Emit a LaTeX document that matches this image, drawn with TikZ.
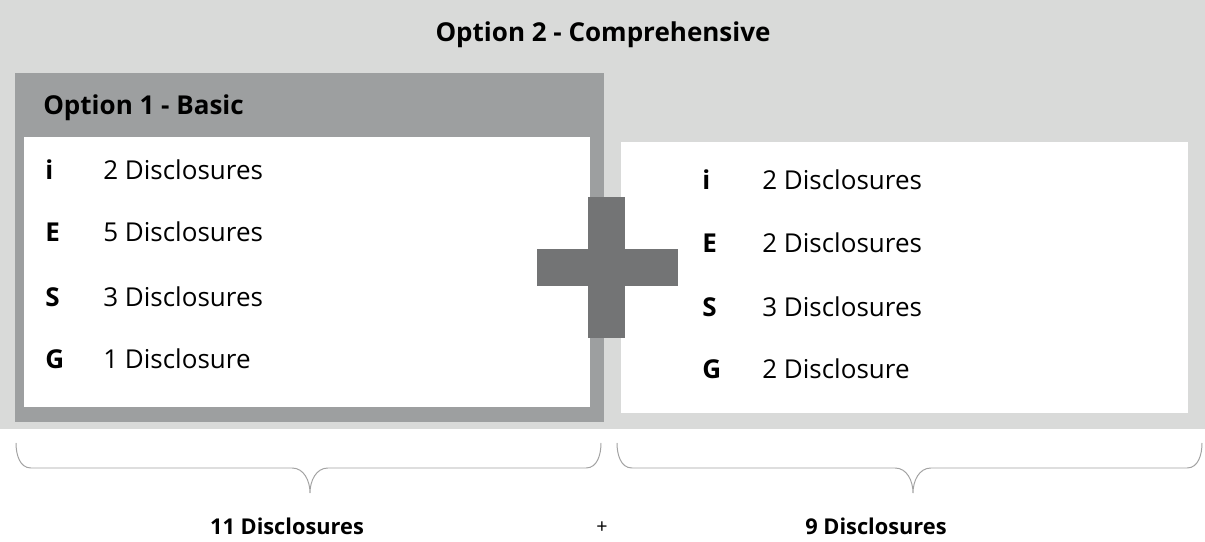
\documentclass[tikz,border=0pt]{standalone}
\usepackage{fontspec}
\setmainfont{Open Sans}
\definecolor{panelgray}{HTML}{D9DAD9}
\definecolor{basicgray}{HTML}{9D9FA0}
\definecolor{plusgray}{HTML}{737475}
\definecolor{bracegray}{HTML}{A3A3A3}
\begin{document}
\begin{tikzpicture}[font=\fontsize{18.5}{22}\selectfont,
  head/.style={font=\fontsize{18.5}{22}\selectfont\bfseries,inner sep=0pt},
  item/.style={anchor=base west,inner sep=0pt},
  letter/.style={item,font=\fontsize{18.5}{22}\selectfont\bfseries},
  total/.style={font=\fontsize{15.5}{18}\selectfont\bfseries,anchor=base,inner sep=0pt}]
  \useasboundingbox (0,0) rectangle (30.125,-13.55);
  \fill[white] (0,0) rectangle (30.125,-13.55);
  \fill[panelgray] (0,0) rectangle (30.125,-10.725);
  \fill[basicgray] (0.375,-1.825) rectangle (15.1,-10.55);
  \fill[white] (0.6,-3.425) rectangle (14.75,-10.175);
  \fill[white] (15.525,-3.55) rectangle (29.7,-10.325);
  \fill[plusgray] (14.7,-4.925) rectangle (15.625,-8.45);
  \fill[plusgray] (13.425,-6.225) rectangle (16.95,-7.15);
  \node[head,anchor=base] (comp) at (15.075,-1.05) {Option 2 - Comprehensive};
  \node[head,anchor=base west] (basic) at (1.075,-2.875) {Option 1 - Basic};
  \foreach \i/\l/\n/\y in {
    1/i/2 Disclosures/-4.5, 2/E/5 Disclosures/-6.05,
    3/S/3 Disclosures/-7.675, 4/G/1 Disclosure/-9.225} {
    \node[letter] (bl\i) at (1.125,\y) {\l};
    \node[item] (bn\i) at (2.575,\y) {\n};
  }
  \foreach \i/\l/\n/\z in {
    1/i/2 Disclosures/-4.75, 2/E/2 Disclosures/-6.325,
    3/S/3 Disclosures/-7.925, 4/G/2 Disclosure/-9.475} {
    \node[letter] (cl\i) at (17.55,\z) {\l};
    \node[item] (cn\i) at (19.05,\z) {\n};
  }
  \foreach \a/\m/\b in {0.4/7.75/15.025, 15.425/22.825/30.05} {
    \draw[bracegray,line width=0.7pt]
      (\a,-11.075) to[out=-90,in=180] (\a+0.375,-11.7)
      -- (\m-0.45,-11.7) to[out=0,in=90] (\m,-12.325)
      to[out=90,in=180] (\m+0.45,-11.7)
      -- (\b-0.375,-11.7) to[out=0,in=-90] (\b,-11.075);
  }
  \node[total] (sumbasic) at (7.175,-13.375) {11 Disclosures};
  \node[inner sep=0pt,font=\fontsize{14}{16}\selectfont] (plus) at (15.05,-13.2) {+};
  \node[total] (sumcomp) at (21.9,-13.375) {9 Disclosures};
\end{tikzpicture}
\end{document}
